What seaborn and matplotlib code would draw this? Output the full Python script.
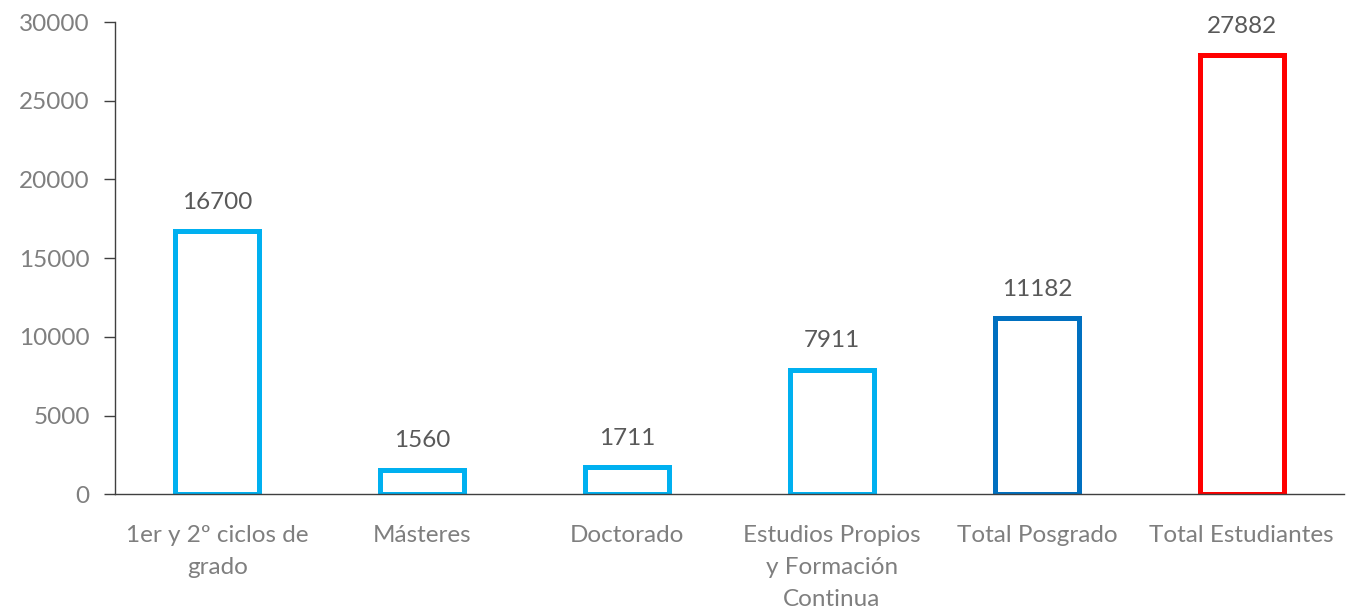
import numpy as np
import pandas as pd
import matplotlib
matplotlib.use('Agg')
import matplotlib.pyplot as plt
import seaborn as sns

categorias = ['1er y 2º ciclos de\ngrado', 'Másteres', 'Doctorado',
              'Estudios Propios\ny Formación\nContinua', 'Total Posgrado',
              'Total Estudiantes']
valores = [16700, 1560, 1711, 7911, 11182, 27882]
colores = ['#00B0F0', '#00B0F0', '#00B0F0', '#00B0F0', '#0070C0', '#FF0000']

sns.set_style('white')
plt.rcParams['font.family'] = ['Lato', 'DejaVu Sans']

df = pd.DataFrame({'categoria': categorias, 'valor': valores})

fig = plt.figure(figsize=(13.51, 6.14), dpi=100)
ax = fig.add_axes([0.085, 0.195, 0.91, 0.769])

sns.barplot(data=df, x='categoria', y='valor', hue='categoria',
            palette=colores, fill=False, width=0.41, linewidth=3.6,
            legend=False, ax=ax)

gris = '#595959'
gris_eje = '#7F7F7F'
for i, v in enumerate(valores):
    ax.text(i, v + 1850, str(v), ha='center', va='center', fontsize=17.5, color=gris)

ax.set_ylim(0, 30000)
ax.set_xlim(-0.5, len(categorias) - 0.5)
ax.set_yticks(np.arange(0, 30001, 5000))
ax.set_xlabel('')
ax.set_ylabel('')
for lab in ax.get_xticklabels():
    lab.set_linespacing(1.65)

ax.set_xticks(np.arange(-0.5, len(categorias), 1), minor=True)
ax.tick_params(axis='x', which='major', length=0, labelsize=17.5, labelcolor=gris_eje, pad=22)
ax.tick_params(axis='x', which='minor', length=14, direction='inout', color='#404040', width=1)
ax.tick_params(axis='y', length=8, direction='out', color='#404040', width=1,
               labelsize=17.5, labelcolor=gris_eje, left=True, pad=10)

for s in ['top', 'right']:
    ax.spines[s].set_visible(False)
for s in ['left', 'bottom']:
    ax.spines[s].set_color('#404040')
    ax.spines[s].set_linewidth(1)

fig.savefig('out.png', dpi=100)
